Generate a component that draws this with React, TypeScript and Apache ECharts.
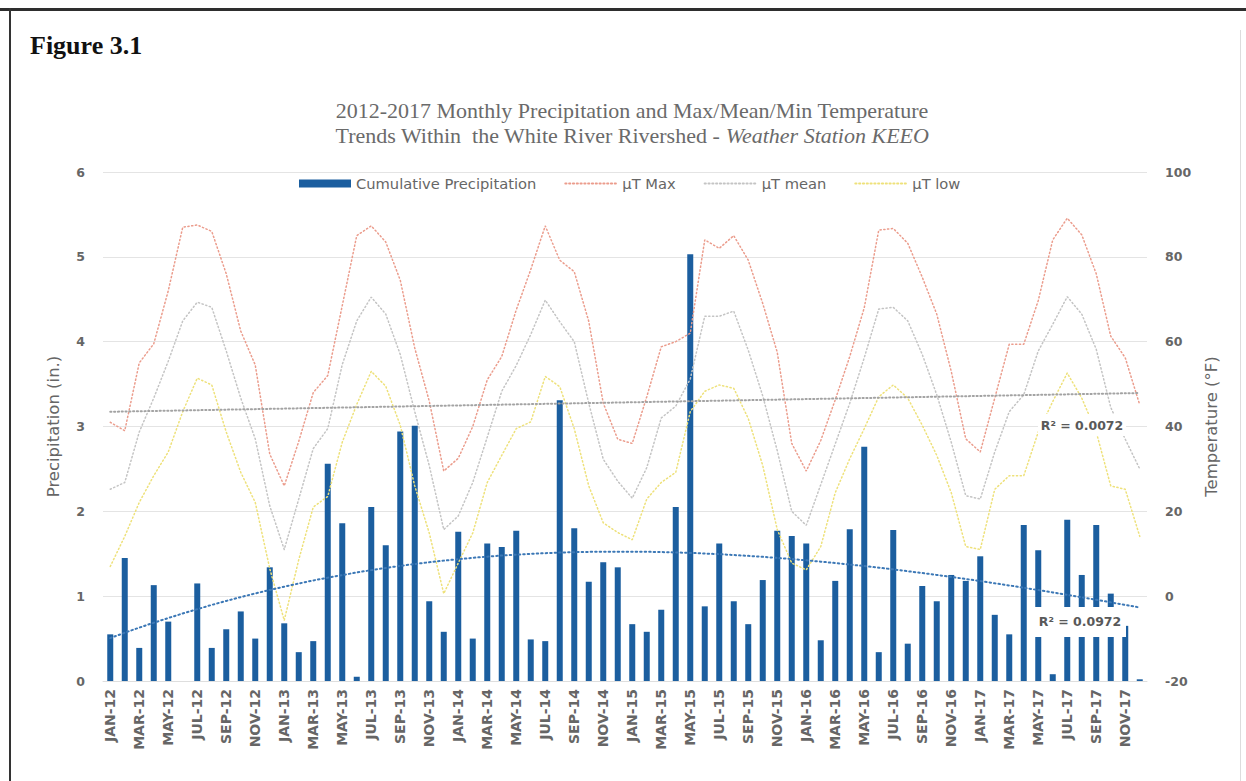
import React, { useEffect, useRef } from "react";
import * as echarts from "echarts";

// Month categories, Jan 2012 – Dec 2017
const months = [
  "JAN-12", "FEB-12", "MAR-12", "APR-12", "MAY-12", "JUN-12", "JUL-12", "AUG-12", "SEP-12", "OCT-12", "NOV-12", "DEC-12",
  "JAN-13", "FEB-13", "MAR-13", "APR-13", "MAY-13", "JUN-13", "JUL-13", "AUG-13", "SEP-13", "OCT-13", "NOV-13", "DEC-13",
  "JAN-14", "FEB-14", "MAR-14", "APR-14", "MAY-14", "JUN-14", "JUL-14", "AUG-14", "SEP-14", "OCT-14", "NOV-14", "DEC-14",
  "JAN-15", "FEB-15", "MAR-15", "APR-15", "MAY-15", "JUN-15", "JUL-15", "AUG-15", "SEP-15", "OCT-15", "NOV-15", "DEC-15",
  "JAN-16", "FEB-16", "MAR-16", "APR-16", "MAY-16", "JUN-16", "JUL-16", "AUG-16", "SEP-16", "OCT-16", "NOV-16", "DEC-16",
  "JAN-17", "FEB-17", "MAR-17", "APR-17", "MAY-17", "JUN-17", "JUL-17", "AUG-17", "SEP-17", "OCT-17", "NOV-17", "DEC-17",
];

// Monthly cumulative precipitation (in.)
const precipitation = [
  0.55, 1.45, 0.39, 1.13, 0.7, 0.0, 1.15, 0.39, 0.61, 0.82, 0.5, 1.34,
  0.68, 0.34, 0.47, 2.56, 1.86, 0.05, 2.05, 1.6, 2.94, 3.01, 0.94, 0.58,
  1.76, 0.5, 1.62, 1.58, 1.77, 0.49, 0.47, 3.31, 1.8, 1.17, 1.4, 1.34,
  0.67, 0.58, 0.84, 2.05, 5.03, 0.88, 1.62, 0.94, 0.67, 1.19, 1.77, 1.71,
  1.62, 0.48, 1.18, 1.79, 2.76, 0.34, 1.78, 0.44, 1.12, 0.94, 1.25, 1.18,
  1.47, 0.78, 0.55, 1.84, 1.54, 0.08, 1.9, 1.25, 1.84, 1.03, 0.65, 0.02,
];

// Monthly average maximum temperature (°F)
const tMax = [
  41, 39, 55, 59.5, 72, 87, 87.5, 86, 76, 62.5, 54.5, 33.5,
  26, 36.5, 48, 52, 68.5, 85, 87.3, 83.5, 74.5, 58.5, 46, 29.5,
  32.5, 40, 51, 56.5, 67.5, 77, 87.3, 79.2, 76.5, 64.8, 45.5, 37,
  36, 47, 58.8, 60, 62, 84, 82, 85, 79.2, 69, 57.5, 36,
  29.5, 36.7, 46.3, 56.5, 68, 86.3, 86.7, 83.2, 75.2, 66.5, 53, 37.1,
  34, 46.7, 59.4, 59.4, 69.7, 84, 89.1, 85.2, 76, 61.3, 56.2, 45.1,
];

// Monthly mean temperature (°F)
const tMean = [
  25.2, 26.8, 38.7, 46.7, 55.4, 64.9, 69.3, 68.1, 57.8, 46.7, 37.1, 21.3,
  11, 22.9, 34.8, 39.5, 54.6, 64.9, 70.5, 66.5, 57, 43.5, 30.8, 15.7,
  18.9, 26.8, 37.5, 48.3, 54.4, 61.7, 69.8, 64.7, 60, 45.5, 32.3, 27.1,
  23.1, 30.3, 42, 44.8, 51.2, 66, 66, 67.2, 58, 47.2, 34.3, 20,
  16.7, 26.3, 35.9, 45.5, 56.2, 67.7, 68.1, 64.9, 57, 47.5, 36.3, 23.7,
  22.9, 34, 43.5, 47.5, 57.8, 64.1, 70.6, 66.5, 58.2, 44.5, 37, 30,
];

// Monthly average minimum temperature (°F)
const tLow = [
  7, 14.1, 22.1, 28.4, 34, 43.5, 51.4, 49.8, 38.7, 29.2, 22.1, 6.5,
  -5.7, 8.6, 21, 23.5, 36.3, 45.2, 53, 49.5, 40.3, 26, 14.9, 0.6,
  7.8, 14.9, 26.8, 33.2, 39.5, 41.1, 51.8, 49.4, 39.5, 26, 17.3, 15,
  13.3, 22.9, 26.8, 29.2, 43.5, 48.3, 49.8, 49, 41.9, 30.8, 15.7, 7.8,
  6.2, 11.7, 24.4, 32.4, 39.5, 47, 49.8, 46.7, 40.3, 33.2, 24.4, 11.7,
  11, 25.2, 28.4, 28.4, 38.7, 45.9, 52.6, 46.7, 38.7, 26, 25.2, 14.1,
];

const legendNames = ["Cumulative Precipitation", "\u00b5T Max", "\u00b5T mean", "\u00b5T low"];
const meanTrendR2 = "R\u00b2 = 0.0072";
const precipTrendR2 = "R\u00b2 = 0.0972";

// Least-squares polynomial trendline evaluated at every category
function polyTrend(values: number[], order: number): number[] {
  const n = values.length;
  const m = order + 1;
  const A: number[][] = [];
  for (let r = 0; r < m; r++) A.push(new Array(m + 1).fill(0));
  for (let i = 0; i < n; i++) {
    const t = i / (n - 1);
    for (let r = 0; r < m; r++) {
      for (let c = 0; c < m; c++) A[r][c] += Math.pow(t, r + c);
      A[r][m] += Math.pow(t, r) * values[i];
    }
  }
  for (let col = 0; col < m; col++) {
    let piv = col;
    for (let r = col + 1; r < m; r++) if (Math.abs(A[r][col]) > Math.abs(A[piv][col])) piv = r;
    const tmp = A[col];
    A[col] = A[piv];
    A[piv] = tmp;
    for (let r = 0; r < m; r++) {
      if (r === col) continue;
      const f = A[r][col] / A[col][col];
      for (let c = col; c <= m; c++) A[r][c] -= f * A[col][c];
    }
  }
  const coef = A.map((row, r) => row[m] / row[r]);
  return values.map((_, i) => {
    const t = i / (n - 1);
    let s = 0;
    for (let k = 0; k < m; k++) s += coef[k] * Math.pow(t, k);
    return Math.round(s * 1000) / 1000;
  });
}

const TEXT = "#666666";
const SANS = "DejaVu Sans";
const SERIF = "Liberation Serif";

const MAX_COLOR = "#eb9c8c";
const MEAN_COLOR = "#c4c4c4";
const LOW_COLOR = "#eee17a";

export default function App() {
  const ref = useRef<HTMLDivElement>(null);

  useEffect(() => {
    if (!ref.current) return;
    const chart = echarts.init(ref.current, undefined, { renderer: "svg" });

    const meanTrend = polyTrend(tMean, 1);
    const precipTrend = polyTrend(precipitation, 3);

    const dotted = (color: string, width = 1.5) => ({
      color,
      width,
      type: [1.2, 2.6] as number[],
      cap: "round" as const,
    });

    const hiddenSymbol = { opacity: 0 };

    chart.setOption({
      animation: false,
      backgroundColor: "#ffffff",
      grid: { left: 103, top: 172, width: 1044, height: 509, containLabel: false },
      legend: {
        left: 299,
        top: 176,
        padding: 0,
        itemWidth: 52,
        itemHeight: 8,
        itemGap: 28,
        textStyle: { fontFamily: SANS, fontSize: 14.7, color: TEXT },
        data: [
          { name: legendNames[0], icon: "rect" },
          { name: legendNames[1], itemStyle: hiddenSymbol },
          { name: legendNames[2], itemStyle: hiddenSymbol },
          { name: legendNames[3], itemStyle: hiddenSymbol },
        ],
      },
      xAxis: {
        type: "category",
        data: months,
        boundaryGap: true,
        axisTick: { show: false },
        axisLine: { show: true, lineStyle: { color: "#dedede" } },
        axisLabel: {
          interval: 1,
          rotate: 90,
          margin: 8,
          fontFamily: SANS,
          fontWeight: "bold",
          fontSize: 14,
          color: TEXT,
        },
        splitLine: { show: false },
      },
      yAxis: [
        {
          type: "value",
          position: "left",
          min: 0,
          max: 6,
          interval: 1,
          name: "Precipitation (in.)",
          nameLocation: "middle",
          nameRotate: 90,
          nameGap: 41,
          nameTextStyle: { fontFamily: SANS, fontSize: 16.5, color: TEXT },
          axisLine: { show: false },
          axisTick: { show: false },
          axisLabel: { margin: 18, fontFamily: SANS, fontWeight: "bold", fontSize: 12.5, color: TEXT },
          splitLine: { show: true, lineStyle: { color: "#e4e4e4", width: 1 } },
        },
        {
          type: "value",
          position: "right",
          min: -20,
          max: 100,
          interval: 20,
          name: "Temperature (\u00b0F)",
          nameLocation: "middle",
          nameRotate: 90,
          nameGap: 56,
          nameTextStyle: { fontFamily: SANS, fontSize: 16.5, color: TEXT },
          axisLine: { show: false },
          axisTick: { show: false },
          axisLabel: { margin: 18, fontFamily: SANS, fontWeight: "bold", fontSize: 12.5, color: TEXT },
          splitLine: { show: false },
        },
      ],
      series: [
        {
          name: legendNames[0],
          type: "bar",
          yAxisIndex: 0,
          data: precipitation,
          barWidth: 6,
          itemStyle: { color: "#1b5e9f" },
          z: 2,
        },
        {
          name: legendNames[1],
          type: "line",
          yAxisIndex: 1,
          data: tMax,
          symbol: "none",
          lineStyle: dotted(MAX_COLOR),
          itemStyle: { color: MAX_COLOR },
          z: 3,
        },
        {
          name: legendNames[2],
          type: "line",
          yAxisIndex: 1,
          data: tMean,
          symbol: "none",
          lineStyle: dotted(MEAN_COLOR),
          itemStyle: { color: MEAN_COLOR },
          z: 3,
        },
        {
          name: legendNames[3],
          type: "line",
          yAxisIndex: 1,
          data: tLow,
          symbol: "none",
          lineStyle: dotted(LOW_COLOR),
          itemStyle: { color: LOW_COLOR },
          z: 3,
        },
        {
          name: "mean trend",
          type: "line",
          yAxisIndex: 1,
          data: meanTrend,
          symbol: "none",
          lineStyle: dotted("#a3a3a3", 2),
          z: 4,
        },
        {
          name: "precipitation trend",
          type: "line",
          yAxisIndex: 0,
          data: precipTrend,
          symbol: "none",
          lineStyle: { color: "#3c78b6", width: 2, type: [1.5, 3], cap: "round" },
          z: 5,
        },
      ],
      graphic: [
        { type: "rect", shape: { x: 0, y: 8, width: 1246, height: 3 }, style: { fill: "#2e2e2e" }, z: 50 },
        { type: "rect", shape: { x: 9, y: 8, width: 2, height: 773 }, style: { fill: "#333333" }, z: 50 },
        { type: "rect", shape: { x: 1240, y: 30, width: 1, height: 751 }, style: { fill: "#dddddd" }, z: 50 },
        {
          type: "text",
          x: 30,
          y: 45,
          style: {
            text: "Figure 3.1",
            font: `bold 26px ${SERIF}`,
            fill: "#111111",
            textAlign: "left",
            textVerticalAlign: "middle",
          },
          z: 50,
        },
        {
          type: "text",
          x: 632,
          y: 110,
          style: {
            text: "2012-2017 Monthly Precipitation and Max/Mean/Min Temperature",
            font: `22px ${SERIF}`,
            fill: "#6a6a6a",
            textAlign: "center",
            textVerticalAlign: "middle",
          },
          z: 50,
        },
        {
          type: "text",
          x: 632,
          y: 135,
          style: {
            text: "{r|Trends Within  the White River Rivershed - }{i|Weather Station KEEO}",
            textAlign: "center",
            textVerticalAlign: "middle",
            rich: {
              r: { font: `22px ${SERIF}`, fill: "#6a6a6a" },
              i: { font: `italic 22px ${SERIF}`, fill: "#6a6a6a" },
            },
          },
          z: 50,
        },
        {
          type: "rect",
          shape: { x: 1038, y: 414, width: 88, height: 22 },
          style: { fill: "#ffffff" },
          z: 60,
        },
        {
          type: "text",
          x: 1082,
          y: 425,
          style: {
            text: meanTrendR2,
            font: `bold 12.5px ${SANS}`,
            fill: "#595959",
            textAlign: "center",
            textVerticalAlign: "middle",
          },
          z: 61,
        },
        {
          type: "rect",
          shape: { x: 1034, y: 607, width: 92, height: 30 },
          style: { fill: "#ffffff" },
          z: 60,
        },
        {
          type: "text",
          x: 1080,
          y: 621,
          style: {
            text: precipTrendR2,
            font: `bold 12.5px ${SANS}`,
            fill: "#595959",
            textAlign: "center",
            textVerticalAlign: "middle",
          },
          z: 61,
        },
      ],
    });

    return () => chart.dispose();
  }, []);

  return (
    <div
      ref={ref}
      style={{ position: "fixed", left: 0, top: 0, width: 1246, height: 781, background: "#ffffff" }}
    />
  );
}
